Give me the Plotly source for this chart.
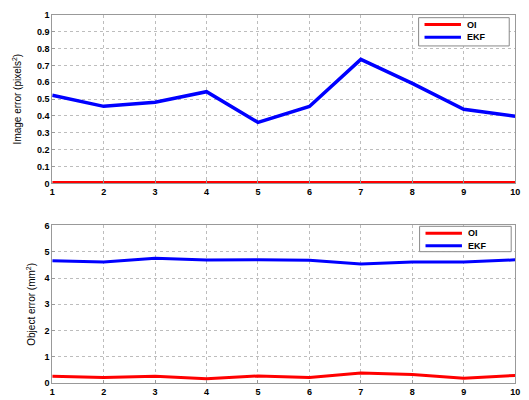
import plotly.graph_objects as go

x_vals = [1, 2, 3, 4, 5, 6, 7, 8, 9, 10]
image_oi = [0.005, 0.005, 0.005, 0.005, 0.005, 0.005, 0.005, 0.005, 0.005, 0.005]
image_ekf = [0.523, 0.457, 0.481, 0.544, 0.362, 0.456, 0.735, 0.593, 0.440, 0.398]
object_oi = [0.27, 0.22, 0.27, 0.17, 0.28, 0.22, 0.39, 0.33, 0.19, 0.30]
object_ekf = [4.66, 4.61, 4.75, 4.68, 4.69, 4.67, 4.53, 4.61, 4.61, 4.69]
series_names = ["OI", "EKF"]

W, H = 529, 400
RED = "#ff0000"
BLUE = "#0000ff"
COLORS = [RED, BLUE]

fig = go.Figure()
fig.add_trace(go.Scatter(x=x_vals, y=image_oi, mode="lines", name=series_names[0],
                         line=dict(color=RED, width=3), xaxis="x", yaxis="y"))
fig.add_trace(go.Scatter(x=x_vals, y=image_ekf, mode="lines", name=series_names[1],
                         line=dict(color=BLUE, width=3.5), xaxis="x", yaxis="y"))
fig.add_trace(go.Scatter(x=x_vals, y=object_oi, mode="lines", name=series_names[0],
                         line=dict(color=RED, width=3), xaxis="x2", yaxis="y2"))
fig.add_trace(go.Scatter(x=x_vals, y=object_ekf, mode="lines", name=series_names[1],
                         line=dict(color=BLUE, width=3), xaxis="x2", yaxis="y2"))

tickfont = dict(family="Liberation Sans, Arial", size=9, color="black", weight="bold")
titlefont = dict(family="Liberation Sans Narrow, Arial Narrow, Liberation Sans", size=10, color="black")

axcommon = dict(showline=True, linecolor="#999999", linewidth=1, mirror=True,
                showgrid=True, gridcolor="#bdbdbd", griddash="dot", gridwidth=1,
                zeroline=False, ticks="inside", ticklen=3, tickcolor="#999999",
                tickfont=tickfont)

xd = [50 / W, 520 / W]
fig.update_layout(
    width=W, height=H,
    margin=dict(l=0, r=0, t=0, b=0),
    paper_bgcolor="white", plot_bgcolor="white",
    showlegend=False,
    xaxis=dict(domain=xd, range=[1, 10], tickvals=x_vals, anchor="y", **axcommon),
    yaxis=dict(domain=[1 - 183 / H, 1 - 10 / H], range=[0, 1], dtick=0.1, anchor="x",
               tickformat=".1~f",
               title=dict(text="Image error (pixels<sup>2</sup>)", font=titlefont, standoff=13),
               **axcommon),
    xaxis2=dict(domain=xd, range=[1, 10], tickvals=x_vals, anchor="y2", **axcommon),
    yaxis2=dict(domain=[1 - 388 / H, 1 - 226 / H], range=[0, 6], dtick=1, anchor="x2",
                title=dict(text="Object error (mm<sup>2</sup>)", font=titlefont, standoff=6),
                **axcommon),
)

# Custom compact MATLAB-style legends (pixel positions -> paper coords)
def px(x):
    return x / W

def py(y):
    return 1 - y / H

legend_specs = [
    dict(box=(422, 13, 514, 42), rows=(20, 33)),
    dict(box=(423, 227, 516, 253), rows=(234, 247)),
]
for spec in legend_specs:
    x0, y0, x1, y1 = spec["box"]
    fig.add_shape(type="rect", xref="paper", yref="paper",
                  x0=px(x0), x1=px(x1), y0=py(y1), y1=py(y0),
                  line=dict(color="#888888", width=1), fillcolor="white", layer="above")
    for name, color, ry in zip(series_names, COLORS, spec["rows"]):
        fig.add_shape(type="line", xref="paper", yref="paper",
                      x0=px(x0 + 6), x1=px(x0 + 43), y0=py(ry), y1=py(ry),
                      line=dict(color=color, width=3), layer="above")
        fig.add_annotation(xref="paper", yref="paper", x=px(x0 + 47), y=py(ry),
                           xanchor="left", yanchor="middle", showarrow=False,
                           text=name, font=dict(family="Liberation Sans, Arial", size=9,
                                                color="black", weight="bold"))

fig.write_html("out.html")
